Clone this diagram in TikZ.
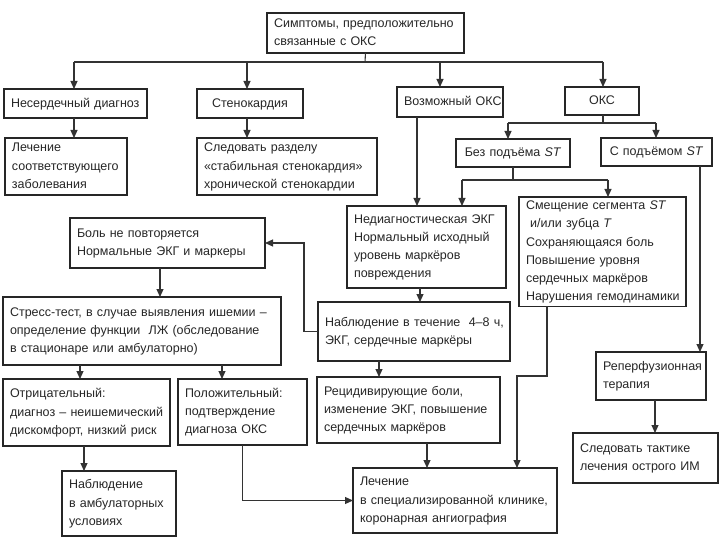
\documentclass[tikz,border=0pt]{standalone}
\usepackage{fontspec}
\setmainfont{Liberation Sans}
\usetikzlibrary{arrows.meta}
\tikzset{
  box/.style={draw=black!85, line width=1.25pt, inner xsep=7pt, inner ysep=0pt, outer sep=0pt, align=left, font=\fontsize{12.5}{18.2}\selectfont, text=black!85},
  conn/.style={draw=black!80, line width=1.1pt},
  arr/.style={conn, -{Triangle[length=8pt,width=7pt]}}
}
\newcommand\mybox[7][]{%
  \pgfmathsetmacro\bw{#5-#3}\pgfmathsetmacro\bh{#6-#4}\pgfmathsetmacro\tw{#5-#3-14}%
  \node[box, anchor=north west, minimum width=\bw pt, minimum height=\bh pt, text width=\tw pt, #1] (#2) at (#3,#4) {\begin{tabular}{@{}l@{}}#7\end{tabular}};}
\begin{document}
\begin{tikzpicture}[x=1pt,y=-1pt]
\useasboundingbox (0,0) rectangle (720,540);
% boxes
\mybox{top}{267}{13}{464}{53}{Симптомы, предположительно\\связанные с ОКС}
\mybox[inner xsep=5pt]{nes}{4}{89}{147}{118}{Несердечный диагноз}
\mybox[align=center]{sten}{197}{89}{303}{118}{Стенокардия}
\mybox[align=center]{vozm}{397}{87}{503}{117}{Возможный ОКС}
\mybox[align=center]{oks}{565}{87}{639}{115}{ОКС}
\mybox{lech}{5}{138}{127}{195}{Лечение\\соответствующего\\заболевания}
\mybox{sled}{197}{138}{377}{195}{Следовать разделу\\«стабильная стенокардия»\\хронической стенокардии}
\mybox[align=center]{bez}{456}{139}{570}{167}{Без подъёма \textit{ST}}
\mybox[align=center]{spod}{601}{138}{712}{166}{С подъёмом \textit{ST}}
\mybox{bol}{70}{218}{265}{268}{Боль не повторяется\\Нормальные ЭКГ и маркеры}
\mybox{nediag}{347}{206}{506}{288}{Недиагностическая ЭКГ\\Нормальный исходный\\уровень маркёров\\повреждения}
\mybox[inner xsep=5pt]{smesh}{519}{197}{686}{306}{Смещение сегмента \textit{ST}\\\ и/или зубца \textit{T}\\Сохраняющаяся боль\\Повышение уровня\\сердечных маркёров\\Нарушения гемодинамики}
\mybox{stress}{3}{297}{281}{365}{Стресс-тест, в случае выявления ишемии –\\определение функции\ \ ЛЖ (обследование\\в стационаре или амбулаторно)}
\mybox[inner xsep=6pt]{nabl}{318}{302}{510}{361}{Наблюдение в течение\ \ 4–8 ч,\\ЭКГ, сердечные маркёры}
\mybox[inner xsep=6pt]{otr}{3}{379}{170}{446}{Отрицательный:\\диагноз – неишемический\\дискомфорт, низкий риск}
\mybox{pol}{178}{379}{307}{445}{Положительный:\\подтверждение\\диагноза ОКС}
\mybox{recid}{317}{377}{500}{443}{Рецидивирующие боли,\\изменение ЭКГ, повышение\\сердечных маркёров}
\mybox{reperf}{596}{352}{706}{400}{Реперфузионная\\терапия}
\mybox{takt}{573}{433}{718}{483}{Следовать тактике\\лечения острого ИМ}
\mybox{namb}{62}{471}{176}{536}{Наблюдение\\в амбулаторных\\условиях}
\mybox{lechen}{353}{468}{557}{533}{Лечение\\в специализированной клинике,\\коронарная ангиография}
% coordinates
\coordinate (bar) at (365,62);
\coordinate (obar) at (603,123);
\coordinate (b1) at (462,180);
\coordinate (b2) at (608,180);
\coordinate (vx) at (417,0);
\coordinate (sx) at (700,0);
\coordinate (nx) at (420,0);
\coordinate (bx) at (160,0);
\coordinate (s1x) at (80,0);
\coordinate (s2x) at (222,0);
\coordinate (rx) at (379,0);
\coordinate (lx) at (427,0);
\coordinate (m1) at (547,376);
\coordinate (m2) at (517,376);
% connectors
\draw[conn] (top.south) -- (bar);
\draw[conn] (74,62) -- (603,62);
\draw[arr] (74,62) -- (nes.north -| 74,0);
\draw[arr] (247,62) -- (sten.north -| 247,0);
\draw[arr] (440,62) -- (vozm.north -| 440,0);
\draw[arr] (603,62) -- (oks.north -| 603,0);
\draw[arr] (nes.south -| 74,0) -- (lech.north -| 74,0);
\draw[arr] (sten.south -| 247,0) -- (sled.north -| 247,0);
\draw[conn] (oks.south -| obar) -- (obar);
\draw[conn] (508,123) -- (656,123);
\draw[arr] (508,123) -- (bez.north -| 508,0);
\draw[arr] (656,123) -- (spod.north -| 656,0);
\draw[arr] (vozm.south -| vx) -- (nediag.north -| vx);
\draw[conn] (bez.south -| 513,0) -- (513,180);
\draw[conn] (b1) -- (b2);
\draw[arr] (b1) -- (nediag.north -| b1);
\draw[arr] (b2) -- (smesh.north -| b2);
\draw[arr] (spod.south -| sx) -- (reperf.north -| sx);
\draw[arr] (reperf.south -| 655,0) -- (takt.north -| 655,0);
\draw[arr] (nediag.south -| nx) -- (nabl.north -| nx);
\draw[arr] (nabl.west) -- ++(-14,0) |- (bol.east);
\draw[arr] (bol.south -| bx) -- (stress.north -| bx);
\draw[arr] (stress.south -| s1x) -- (otr.north -| s1x);
\draw[arr] (stress.south -| s2x) -- (pol.north -| s2x);
\draw[arr] (otr.south -| 84,0) -- (namb.north -| 84,0);
\draw[arr] (pol.south) |- (lechen.west);
\draw[arr] (nabl.south -| rx) -- (recid.north -| rx);
\draw[arr] (recid.south -| lx) -- (lechen.north -| lx);
\draw[arr] (smesh.south -| m1) -- (m1) -- (m2) -- (lechen.north -| m2);
\end{tikzpicture}
\end{document}
